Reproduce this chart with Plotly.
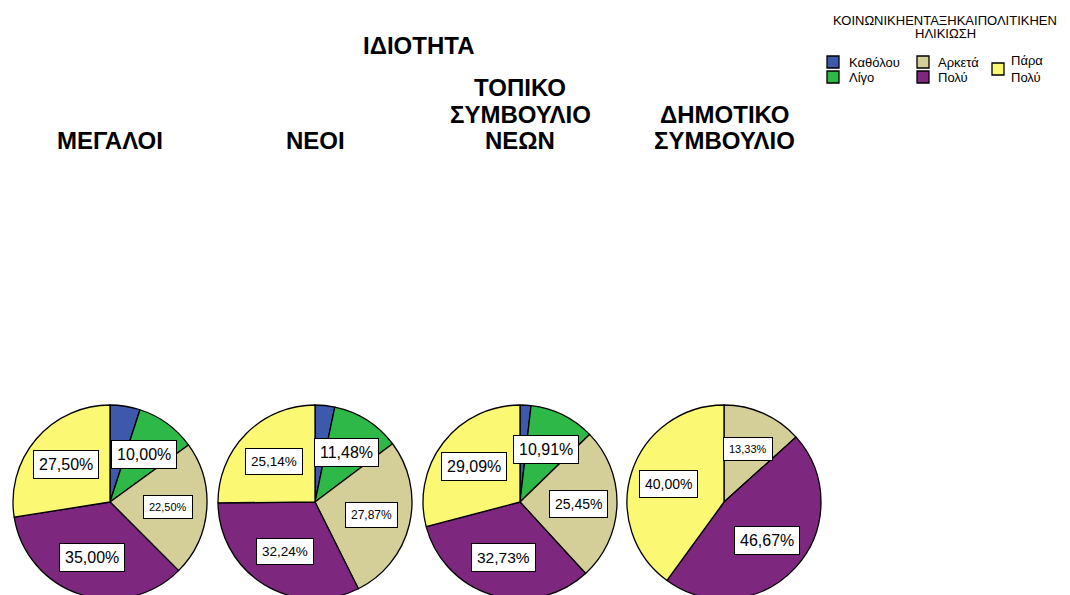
import math
import plotly.graph_objects as go

# ---------------- data ----------------
categories = ["Καθόλου", "Λίγο", "Αρκετά", "Πολύ", "Πάρα Πολύ"]
group_titles = ["ΜΕΓΑΛΟΙ", "ΝΕΟΙ", "ΤΟΠΙΚΟ<br>ΣΥΜΒΟΥΛΙΟ<br>ΝΕΩΝ", "ΔΗΜΟΤΙΚΟ<br>ΣΥΜΒΟΥΛΙΟ"]
megaloi = [5.00, 10.00, 22.50, 35.00, 27.50]
neoi = [3.27, 11.48, 27.87, 32.24, 25.14]
topiko = [1.82, 10.91, 25.45, 32.73, 29.09]
dimotiko = [0.00, 0.00, 13.33, 46.67, 40.00]
series = [megaloi, neoi, topiko, dimotiko]
main_title = "ΙΔΙΟΤΗΤΑ"
legend_title = "ΚΟΙΝΩΝΙΚΗΕΝΤΑΞΗΚΑΙΠΟΛΙΤΙΚΗΕΝ<br>ΗΛΙΚΙΩΣΗ"
legend_texts = ["Καθόλου", "Λίγο", "Αρκετά", "Πολύ", "Πάρα<br>Πολύ"]

# ---------------- styles ----------------
colors = ["#3E58AC", "#2EB848", "#D4CF98", "#7D287E", "#FBF874"]
label_font_sizes = [
    [16, 16, 11, 16, 16],
    [13, 16, 12, 13.5, 13.5],
    [16, 16, 14, 15.5, 16],
    [11, 11, 11, 16, 14],
]
W, H = 1070, 595
OFF = 8  # page offset of the plot in the browser window
R = 97
centers_x = [110 - OFF, 315 - OFF, 520 - OFF, 724 - OFF]
center_y_top = 502 - OFF
label_frac = 0.6
min_label_value = 8
FONT = "Liberation Sans, Arial, sans-serif"
TITLE_FONT = dict(family=FONT, size=24, color="black", weight="bold")
title_line_pitch = 26
title_last_line_y = 140 - OFF


def px2x(p):
    return p / W


def px2y(p):
    return 1 - p / H


fig = go.Figure()
annotations = []
shapes = []

for i, vals in enumerate(series):
    cx = centers_x[i]
    labs = [c for c, v in zip(categories, vals) if v > 0]
    vv = [v for v in vals if v > 0]
    cols = [col for col, v in zip(colors, vals) if v > 0]
    fig.add_trace(go.Pie(
        labels=labs, values=vv, sort=False, direction="clockwise", rotation=0,
        marker=dict(colors=cols, line=dict(color="black", width=1.3)),
        textinfo="none", hoverinfo="label+percent", showlegend=False,
        domain=dict(x=[px2x(cx - R), px2x(cx + R)],
                    y=[px2y(center_y_top + R), px2y(center_y_top - R)]),
    ))
    total = sum(vals)
    cum = 0.0
    for j, v in enumerate(vals):
        if v <= 0:
            continue
        mid = (cum + v / 2) / total * 2 * math.pi
        cum += v
        if v < min_label_value:
            continue
        d = label_frac * R
        lx = cx + d * math.sin(mid)
        ly = center_y_top - d * math.cos(mid)
        annotations.append(dict(
            x=px2x(lx), y=px2y(ly), xref="paper", yref="paper",
            text=f"{v:.2f}%".replace(".", ","), showarrow=False,
            font=dict(family=FONT, size=label_font_sizes[i][j], color="black"),
            bgcolor="white", bordercolor="black", borderwidth=1, borderpad=5,
            xanchor="center", yanchor="middle",
        ))
    # group title, one annotation per line so the line pitch matches
    lines = group_titles[i].split("<br>")
    for k, line in enumerate(lines):
        ly = title_last_line_y - (len(lines) - 1 - k) * title_line_pitch
        annotations.append(dict(
            x=px2x(cx), y=px2y(ly), xref="paper", yref="paper",
            text=line, showarrow=False, font=TITLE_FONT,
            xanchor="center", yanchor="middle",
        ))

# main title
annotations.append(dict(
    x=px2x(418 - OFF), y=px2y(45 - OFF), xref="paper", yref="paper", text=main_title,
    showarrow=False, font=TITLE_FONT, xanchor="center", yanchor="middle",
))

# legend (manual, three columns)
for k, line in enumerate(legend_title.split("<br>")):
    annotations.append(dict(
        x=px2x(945 - OFF), y=px2y(20 + 14 * k - OFF), xref="paper", yref="paper", text=line,
        showarrow=False, font=dict(family=FONT, size=13, color="black"),
        xanchor="center", yanchor="middle",
    ))
legend_pos = [  # (square x0, center y, text x) per category, screen px
    (827, 62, 847), (827, 77, 847), (917, 62, 936), (917, 77, 936), (992, 69, 1009),
]
for k, (sx, sy, tx) in enumerate(legend_pos):
    sx, sy, tx = sx - OFF, sy - OFF, tx - OFF
    shapes.append(dict(
        type="rect", xref="paper", yref="paper",
        x0=px2x(sx), x1=px2x(sx + 12), y0=px2y(sy + 6), y1=px2y(sy - 6),
        fillcolor=colors[k], line=dict(color="black", width=1.3),
    ))
    annotations.append(dict(
        x=px2x(tx), y=px2y(sy), xref="paper", yref="paper", text=legend_texts[k],
        showarrow=False, font=dict(family=FONT, size=13, color="black"),
        xanchor="left", yanchor="middle", align="left",
    ))

fig.update_layout(
    width=W, height=H, margin=dict(l=0, r=0, t=0, b=0),
    paper_bgcolor="white", plot_bgcolor="white",
    showlegend=False, annotations=annotations, shapes=shapes,
)
fig.write_html("out.html")
